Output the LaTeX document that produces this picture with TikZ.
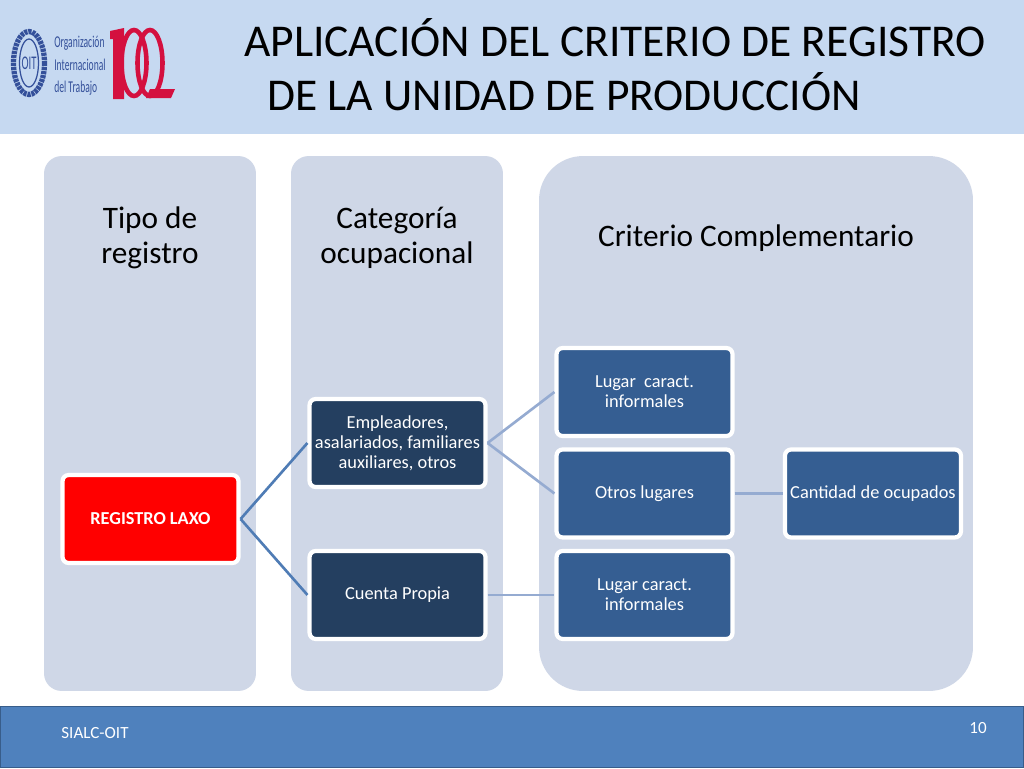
\documentclass[tikz,border=0pt]{standalone}
\usepackage{fontspec}
\setmainfont{Carlito}
\usetikzlibrary{arrows,shadows}
\definecolor{headerblue}{HTML}{C6D9F1}
\definecolor{panelblue}{HTML}{CFD7E7}
\definecolor{footerblue}{HTML}{4F81BD}
\definecolor{footerline}{HTML}{385D8A}
\definecolor{darkbox}{HTML}{243F60}
\definecolor{midbox}{HTML}{355E92}
\definecolor{linkdark}{HTML}{4F7CB5}
\definecolor{linklight}{HTML}{95ABD1}
\definecolor{logoblue}{HTML}{34509A}
\definecolor{logored}{HTML}{D4103F}

\begin{document}
\begin{tikzpicture}[x=0.02cm,y=-0.02cm,node distance=2.03cm,semithick]
  \tikzstyle{panel} = [fill=panelblue,draw=none]
  \tikzstyle{heading} = [align=center,font=\fontsize{17.8}{19.8}\selectfont,text=black]
  \tikzstyle{box} = [rectangle,rounded corners=3.5pt,draw=white,line width=2.4pt,
    minimum width=3.52cm,minimum height=1.76cm,inner sep=0pt,align=center,text=white,
    font=\fontsize{10.45}{11.4}\selectfont,
    drop shadow={shadow xshift=0pt,shadow yshift=-1pt,opacity=0.25}]
  \tikzstyle{dark} = [box,fill=darkbox]
  \tikzstyle{mid} = [box,fill=midbox]
  \tikzstyle{linkA} = [draw=linkdark,line width=1.5pt]
  \tikzstyle{linkB} = [draw=linklight,line width=1.5pt]
  \tikzstyle{logotext} = [text=logoblue,font=\fontsize{9.4}{10}\selectfont,xscale=0.58,inner sep=0pt]

  \useasboundingbox (0,0) rectangle (1024,768);
  \fill[white] (0,0) rectangle (1024,768);

  % header and footer
  \fill[headerblue] (0,0) rectangle (1024,134);
  \filldraw[fill=footerblue,draw=footerline,line width=1pt] (0,706.5) rectangle (1024,767.5);
  \node[font=\fontsize{25.9}{30}\selectfont] (Title1) at (615,38) {APLICACIÓN DEL CRITERIO DE REGISTRO};
  \node[font=\fontsize{25.9}{30}\selectfont] (Title2) at (564,92) {DE LA UNIDAD DE PRODUCCIÓN};
  \node[text=white,font=\fontsize{9.7}{10}\selectfont] (Sialc) at (95,733) {SIALC-OIT};
  \node[text=white,font=\fontsize{9.7}{10}\selectfont] (Page) at (978,728) {10};

  % logo
  \draw[logoblue,line width=3pt,dash pattern=on 1.8pt off 0.5pt] (29,63) ellipse (15.5 and 31.5);
  \draw[logoblue,line width=0.7pt] (29,63) ellipse (9.5 and 24);
  \node[text=logoblue,font=\fontsize{11}{11}\selectfont,xscale=0.55,inner sep=0pt] (Emblem) at (29,63) {OIT};
  \node[logotext,anchor=west] (Org1) at (54,43) {Organización};
  \node[logotext,anchor=west] (Org2) at (54,65) {Internacional};
  \node[logotext,anchor=west] (Org3) at (54,88) {del Trabajo};
  \fill[logored] (110,31) -- (124,28) -- (124,99) -- (113,99) -- (113,39) -- (110,39) -- cycle;
  \draw[logored,line width=2.6pt] (134,63) ellipse (12.5 and 33);
  \draw[logored,line width=2.6pt] (150,63) ellipse (12.5 and 33);
  \fill[logored] (150,89) -- (175,89) -- (171,98) -- (146,98) -- cycle;

  % panels
  \node[panel,rounded corners=10pt,minimum width=4.24cm,minimum height=10.7cm,inner sep=0pt] (Tipo) at (150,423.5) {};
  \node[panel,rounded corners=10pt,minimum width=4.24cm,minimum height=10.7cm,inner sep=0pt] (Categoria) at (397,423.5) {};
  \node[panel,rounded corners=25pt,minimum width=8.68cm,minimum height=10.7cm,inner sep=0pt] (Criterio) at (756,423.5) {};
  \node[heading] (TipoText) at (150,238) {Tipo de\\registro};
  \node[heading] (CategoriaText) at (397,238) {Categoría\\ocupacional};
  \node[heading] (CriterioText) at (756,238) {Criterio Complementario};

  \node[box,fill=red,font=\fontsize{10.4}{11.4}\bfseries\selectfont] (Registro) at (150.5,519) {REGISTRO LAXO};
  \node[dark] (Empleadores) at (397.5,443) {Empleadores,\\asalariados, familiares\\auxiliares, otros};
  \node[mid] (Lugar) at (644.5,392) {Lugar~ caract.\\informales};
  \node[mid] (Otros) [below of=Lugar] {Otros lugares};
  \node[mid] (LugarB) [below of=Otros] {Lugar caract.\\informales};
  \node[dark] (Cuenta) [left of=LugarB,node distance=4.94cm] {Cuenta Propia};
  \node[mid] (Cantidad) [right of=Otros,node distance=4.57cm] {Cantidad de ocupados};

  \draw[linkA] (Registro.east) -- (Empleadores.west);
  \draw[linkA] (Registro.east) -- (Cuenta.west);
  \draw[linkB] (Empleadores.east) -- (Lugar.west);
  \draw[linkB] (Empleadores.east) -- (Otros.west);
  \draw[linkB] (Cuenta.east) -- (LugarB.west);
  \draw[linkB] (Otros.east) -- (Cantidad.west);
\end{tikzpicture}
\end{document}
